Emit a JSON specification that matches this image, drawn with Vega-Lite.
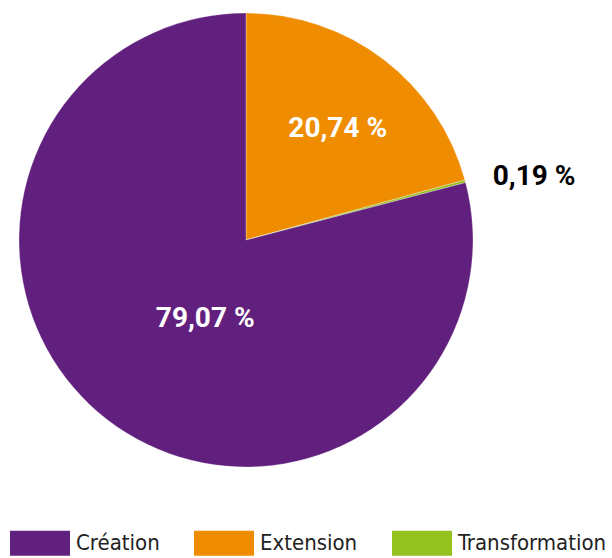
{
  "$schema": "https://vega.github.io/schema/vega-lite/v6.json",
  "width": 492,
  "height": 480,
  "autosize": {"type": "none"},
  "padding": {"left": 0, "top": 0, "right": 120, "bottom": 78},
  "background": "white",
  "config": {"view": {"stroke": null}},
  "data": {
    "values": [
      {"type": "Extension", "share": 20.74, "label": "20,74 %", "ord": 1},
      {"type": "Transformation", "share": 0.19, "label": "0,19 %", "ord": 2},
      {"type": "Création", "share": 79.07, "label": "79,07 %", "ord": 3}
    ]
  },
  "encoding": {
    "theta": {"field": "share", "type": "quantitative", "stack": true},
    "order": {"field": "ord", "type": "quantitative"}
  },
  "layer": [
    {
      "mark": {"type": "arc", "radius": 227, "stroke": "white", "strokeWidth": 0.3},
      "encoding": {
        "color": {
          "field": "type",
          "type": "nominal",
          "scale": {"domain": ["Création", "Extension", "Transformation"], "range": ["#62207E", "#F08C00", "#95C11F"]},
          "legend": {
            "title": null,
            "orient": "none",
            "direction": "horizontal",
            "legendX": 10,
            "legendY": 513,
            "padding": 0,
            "symbolType": "M-1,-0.417H1V0.417H-1Z",
            "symbolSize": 3600,
            "symbolStrokeWidth": 0,
            "symbolOpacity": 1,
            "labelFont": "Liberation Sans Narrow, DejaVu Sans Condensed, sans-serif",
            "labelFontSize": 22,
            "labelColor": "#222222",
            "labelOffset": 6,
            "columnPadding": 34,
            "labelLimit": 300
          }
        }
      }
    },
    {
      "mark": {"type": "text", "radius": 143, "dx": 5, "dy": 3, "font": "Roboto", "fontWeight": "bold", "fontSize": 28, "fill": "white", "baseline": "middle", "align": "center"},
      "encoding": {"text": {"condition": {"test": "datum.type === 'Extension'", "field": "label"}, "value": ""}}
    },
    {
      "mark": {"type": "text", "radius": 88, "dx": 13, "dy": 9, "font": "Roboto", "fontWeight": "bold", "fontSize": 28, "fill": "white", "baseline": "middle", "align": "center"},
      "encoding": {"text": {"condition": {"test": "datum.type === 'Création'", "field": "label"}, "value": ""}}
    },
    {
      "mark": {"type": "text", "radius": 290, "dx": 8, "dy": 12, "font": "Roboto", "fontWeight": "bold", "fontSize": 28, "fill": "black", "baseline": "middle", "align": "center"},
      "encoding": {"text": {"condition": {"test": "datum.type === 'Transformation'", "field": "label"}, "value": ""}}
    }
  ]
}
